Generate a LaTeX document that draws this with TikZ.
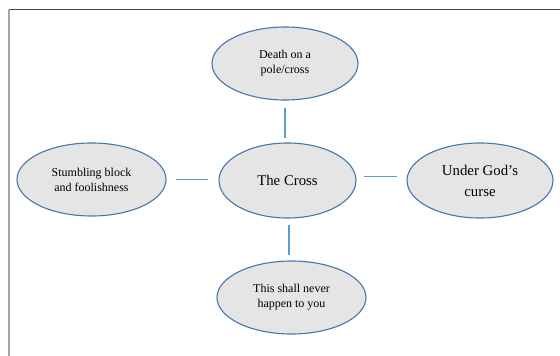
\documentclass[tikz,border=0pt]{standalone}
\usepackage{fontspec}
\setmainfont{Liberation Serif}
\usetikzlibrary{shapes.geometric}
\definecolor{rimblue}{RGB}{72,118,170}
\definecolor{lineblue}{RGB}{91,155,213}
\definecolor{bubblegrey}{RGB}{229,229,229}
\tikzset{
  bubble/.style={ellipse,draw=rimblue,line width=1.1pt,fill=bubblegrey,
    minimum width=146pt,minimum height=73pt,align=center,inner sep=0pt},
  small/.style={font=\fontsize{12}{14.8}\selectfont},
  big/.style={font=\fontsize{14.8}{21}\selectfont},
  link/.style={draw=lineblue,line width=1.4pt}
}
\begin{document}
\begin{tikzpicture}[x=1pt,y=-1pt]
    \useasboundingbox (0,0) rectangle (560,356);
    % frame
    \draw[black!75,line width=1pt] (8,9) -- (560,9);
    \draw[black!35,line width=2pt] (8.5,9) -- (8.5,356);
    % bubbles
    \node[bubble,big,minimum width=137pt,minimum height=75pt] (cross) at (287.5,180.5) {The Cross};
    \node[bubble,small] (pole) at (285,63.5) {Death on a\\pole/cross};
    \node[bubble,small,minimum width=149pt] (stumble) at (91.5,179.5) {Stumbling block\\and foolishness};
    \node[bubble,big,minimum height=75pt] (curse) at (480,180.5) {Under God's\\curse};
    \node[bubble,small,minimum width=149pt] (never) at (291.5,297.5) {This shall never\\happen to you};
    % links
    \draw[link,shorten <=7pt,shorten >=4pt] (pole.south) -- (pole.south |- cross.north);
    \draw[link,shorten <=9pt,shorten >=10pt] (stumble.east) -- (stumble.east -| cross.west);
    \draw[link,shorten <=7pt,shorten >=9pt] ([yshift=4pt]cross.east) -- ([yshift=4pt]curse.west);
    \draw[link,shorten <=6pt,shorten >=5pt] ([xshift=1.5pt]cross.south) -- ([xshift=1.5pt]cross.south |- never.north);
\end{tikzpicture}
\end{document}
